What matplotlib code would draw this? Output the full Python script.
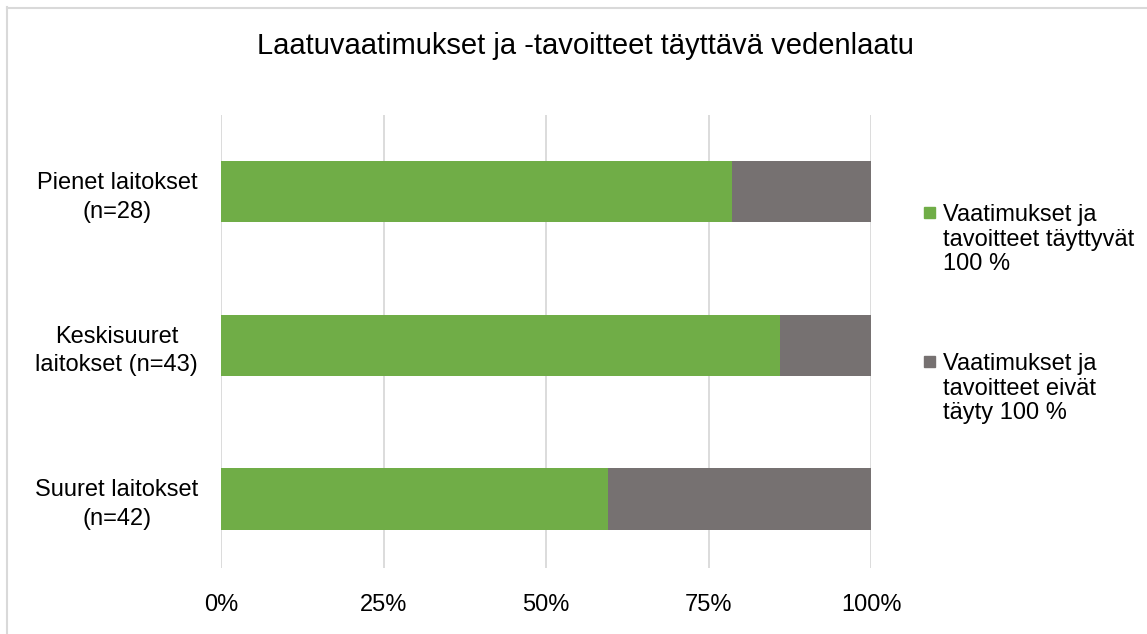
import numpy as np
import matplotlib
matplotlib.use('Agg')
import matplotlib.pyplot as plt
from matplotlib.patches import Rectangle
from matplotlib.lines import Line2D
from matplotlib.ticker import FuncFormatter

plt.rcParams['font.family'] = ['Liberation Sans', 'DejaVu Sans']

title = 'Laatuvaatimukset ja -tavoitteet täyttävä vedenlaatu'
categories = ['Pienet laitokset\n(n=28)', 'Keskisuuret\nlaitokset (n=43)', 'Suuret laitokset\n(n=42)']
totals = np.array([28, 43, 42])
met = np.array([22, 37, 25])          # requirements met 100 %
not_met = totals - met
share_met = met / totals
share_not = not_met / totals

series_labels = ['Vaatimukset ja\ntavoitteet täyttyvät\n100 %',
                 'Vaatimukset ja\ntavoitteet eivät\ntäyty 100 %']
series_colors = ['#70ad47', '#767171']
x_ticks = [0, 0.25, 0.5, 0.75, 1.0]

fig = plt.figure(figsize=(11.47, 6.34), dpi=100)
fig.patch.set_facecolor('white')
ax = fig.add_axes([221 / 1147, 1 - 568 / 634, 650 / 1147, (568 - 115) / 634])

y = np.arange(len(categories))
ax.barh(y, share_met, height=0.4, color=series_colors[0], zorder=3)
ax.barh(y, share_not, left=share_met, height=0.4, color=series_colors[1], zorder=3)

ax.set_xlim(0, 1)
ax.set_ylim(2.45, -0.5)
ax.set_xticks(x_ticks)
ax.xaxis.set_major_formatter(FuncFormatter(lambda v, p: f'{v * 100:.0f}%'))
ax.set_yticks(y)
ax.set_yticklabels(categories, ha='center', linespacing=1.37)
ax.tick_params(axis='y', length=0, pad=75, labelsize=17)
ax.tick_params(axis='x', length=0, pad=19, labelsize=17)
ax.grid(axis='x', color='#d9d9d9', linewidth=1.3, zorder=0)
for s in ax.spines.values():
    s.set_visible(False)

fig.text(585 / 1147, 1 - 46 / 634, title, ha='center', va='center', fontsize=21)

# legend drawn by hand so the marker sits next to the first text line
leg_tops = [205, 354]
for lab, col, top in zip(series_labels, series_colors, leg_tops):
    fig.patches.append(Rectangle((924 / 1147, 1 - (top + 13) / 634), 11 / 1147, 11 / 634,
                                 transform=fig.transFigure, color=col))
    fig.text(943 / 1147, 1 - (top - 1) / 634, lab, ha='left', va='top',
             fontsize=17, linespacing=1.16)

# outer chart border (cut at right and bottom)
fig.add_artist(Line2D([7 / 1147, 1], [1 - 7.5 / 634] * 2, transform=fig.transFigure,
                      color='#d9d9d9', linewidth=1.5))
fig.add_artist(Line2D([7.5 / 1147] * 2, [0, 1 - 7 / 634], transform=fig.transFigure,
                      color='#d9d9d9', linewidth=1.5))

fig.savefig('out.png', dpi=100)
